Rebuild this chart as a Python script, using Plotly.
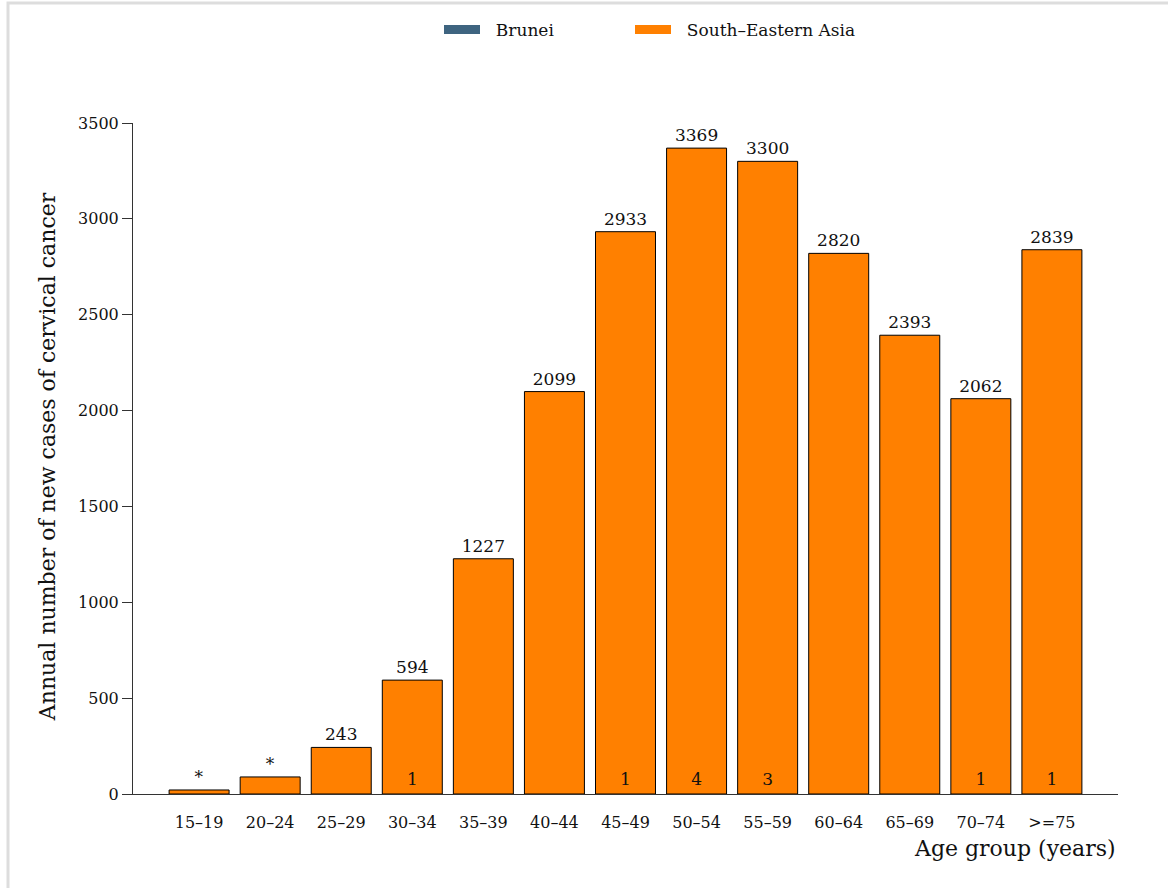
import plotly.graph_objects as go

age_groups = ["15–19", "20–24", "25–29", "30–34", "35–39", "40–44", "45–49",
              "50–54", "55–59", "60–64", "65–69", "70–74", ">=75"]
sea_values = [21, 89, 243, 594, 1227, 2099, 2933, 3369, 3300, 2820, 2393, 2062, 2839]
sea_labels = ["*", "*", "243", "594", "1227", "2099", "2933", "3369", "3300",
              "2820", "2393", "2062", "2839"]
brunei_values = [0, 0, 0, 1, 0, 0, 1, 4, 3, 0, 0, 1, 1]
brunei_labels = ["" if v == 0 else str(v) for v in brunei_values]

BRUNEI = "#3e6480"
ORANGE = "#ff8000"
FONT = "DejaVu Serif"
NB = "\u00a0\u00a0"

fig = go.Figure()
fig.add_trace(go.Bar(
    x=age_groups, y=brunei_values, marker=dict(color=BRUNEI), showlegend=False,
    hoverinfo="skip"))
fig.add_trace(go.Bar(
    x=age_groups, y=sea_values, text=sea_labels, textposition="outside",
    textfont=dict(family=FONT, size=17, color="#111"),
    marker=dict(color=ORANGE, line=dict(color="#000", width=1)),
    showlegend=False, cliponaxis=False))
fig.add_trace(go.Scatter(
    x=age_groups, y=[25] * len(age_groups), text=brunei_labels, mode="text",
    textposition="top center", textfont=dict(family=FONT, size=17, color="#111"),
    showlegend=False, hoverinfo="skip", cliponaxis=False))
# legend entries
fig.add_trace(go.Scatter(x=[None], y=[None], mode="lines", name=NB + "Brunei",
                         line=dict(color=BRUNEI, width=9), legend="legend"))
fig.add_trace(go.Scatter(x=[None], y=[None], mode="lines",
                         name=NB + "South–Eastern Asia",
                         line=dict(color=ORANGE, width=9), legend="legend2"))

W, H = 1168, 888
L, R, T, B = 133, 50, 123, 94
pw, ph = W - L - R, H - T - B

def px_x(p):
    return (p - L) / pw

def px_y(p):
    return (H - B - p) / ph

leg_common = dict(orientation="h", xanchor="left", y=px_y(30), yanchor="middle",
                  font=dict(size=17), itemwidth=36, bgcolor="rgba(0,0,0,0)")

fig.update_layout(
    width=W, height=H,
    margin=dict(l=L, r=R, t=T, b=B),
    barmode="overlay", bargap=0.156,
    paper_bgcolor="white", plot_bgcolor="white",
    font=dict(family=FONT, size=16, color="#111"),
    legend=dict(x=px_x(439), **leg_common),
    legend2=dict(x=px_x(630), **leg_common),
    xaxis=dict(range=[-0.93, 12.93], showline=True, linecolor="#333", linewidth=1,
               ticks="outside", ticklen=14, tickcolor="rgba(0,0,0,0)",
               showgrid=False, zeroline=False, tickfont=dict(size=16)),
    yaxis=dict(range=[0, 3500], tickvals=[0, 500, 1000, 1500, 2000, 2500, 3000, 3500],
               showline=True, linecolor="#333", linewidth=1, ticks="outside",
               ticklen=10, tickcolor="#333", showgrid=False, zeroline=False,
               tickfont=dict(size=16)),
    annotations=[
        dict(text="Annual number of new cases of cervical cancer", textangle=-90,
             xref="paper", yref="paper", x=px_x(47), y=0.502, showarrow=False,
             font=dict(size=22), xanchor="center", yanchor="middle"),
        dict(text="Age group (years)", xref="paper", yref="paper", x=px_x(1118),
             y=px_y(848), showarrow=False, font=dict(size=22), xanchor="right",
             yanchor="middle"),
    ],
    shapes=[dict(type="rect", xref="paper", yref="paper", x0=px_x(8), x1=px_x(1180),
                 y0=px_y(900), y1=px_y(3), line=dict(color="#dddddd", width=3),
                 fillcolor="rgba(0,0,0,0)", layer="below")],
)

fig.write_html("out.html", config={"displayModeBar": False},
               post_script="document.body.style.margin='0';document.body.style.overflow='hidden';")
